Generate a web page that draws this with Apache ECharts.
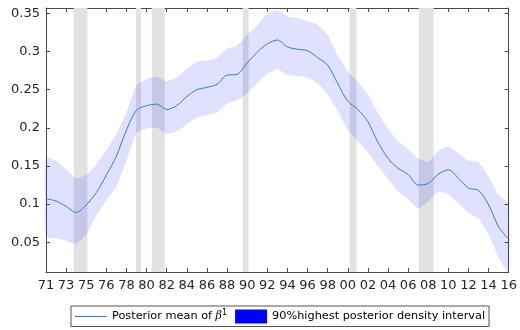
<!DOCTYPE html>
<html>
<head>
<meta charset="utf-8">
<script src="https://cdn.jsdelivr.net/npm/echarts@6/dist/echarts.min.js"></script>
<style>
  html, body { margin: 0; padding: 0; background: #fff; }
  #chart { width: 520px; height: 330px; }
</style>
</head>
<body>
<div id="chart"></div>
<script>
// Tick labels along the time axis (one per tick position 0..23)
const xTickLabels = ['71', '73', '75', '76', '78', '80', '82', '84', '86', '88', '90', '92',
  '94', '96', '98', '00', '02', '04', '06', '08', '10', '12', '14', '16'];

// Value-axis ticks
const yTicks = [0.05, 0.1, 0.15, 0.2, 0.25, 0.3, 0.35];
const yTickLabels = ['0.05', '0.1', '0.15', '0.2', '0.25', '0.3', '0.35'];

// Sample positions on the tick-index scale
const t = [0, 0.5, 1, 1.5, 2, 2.5, 3, 3.5, 4, 4.5, 5, 5.5, 6, 6.5, 7, 7.5, 8, 8.5, 9, 9.5,
  10, 10.5, 11, 11.5, 12, 12.5, 13, 13.5, 14, 14.5, 15, 15.5, 16, 16.5, 17, 17.5, 18, 18.5,
  19, 19.5, 20, 20.5, 21, 21.5, 22, 22.5, 23];

// Posterior mean of beta^1
const posteriorMean = [0.107, 0.104, 0.097, 0.089, 0.099, 0.115, 0.138, 0.163, 0.197, 0.223,
  0.229, 0.231, 0.224, 0.229, 0.241, 0.250, 0.253, 0.257, 0.269, 0.270, 0.285, 0.299, 0.310,
  0.315, 0.306, 0.303, 0.301, 0.292, 0.282, 0.258, 0.235, 0.224, 0.208, 0.181, 0.160, 0.147,
  0.139, 0.125, 0.127, 0.139, 0.145, 0.134, 0.121, 0.118, 0.099, 0.070, 0.054];

// 90% highest posterior density interval bounds
const hpdUpper = [0.161, 0.157, 0.145, 0.134, 0.138, 0.152, 0.171, 0.192, 0.220, 0.256,
  0.264, 0.267, 0.261, 0.266, 0.277, 0.287, 0.288, 0.292, 0.304, 0.308, 0.322, 0.334, 0.350,
  0.354, 0.346, 0.344, 0.340, 0.335, 0.322, 0.295, 0.274, 0.260, 0.244, 0.219, 0.199, 0.182,
  0.172, 0.160, 0.155, 0.170, 0.175, 0.167, 0.157, 0.155, 0.136, 0.112, 0.100];
const hpdLower = [0.057, 0.055, 0.052, 0.048, 0.060, 0.085, 0.105, 0.123, 0.157, 0.193,
  0.199, 0.200, 0.192, 0.195, 0.205, 0.213, 0.217, 0.220, 0.232, 0.236, 0.245, 0.258, 0.271,
  0.277, 0.269, 0.268, 0.266, 0.258, 0.244, 0.222, 0.197, 0.183, 0.168, 0.150, 0.133, 0.117,
  0.106, 0.094, 0.104, 0.116, 0.113, 0.101, 0.088, 0.081, 0.060, 0.030, 0.010];

// Recession periods (shaded), on the tick-index scale
const recessionStart = [1.38, 4.47, 5.26, 9.78, 15.09, 18.53];
const recessionEnd = [2.06, 4.72, 5.90, 10.07, 15.43, 19.26];

const axisColor = '#4a4a4a';
const textColor = '#262626';
const lineColor = '#2f7fd6';
const fontFamily = '"DejaVu Sans", "Liberation Sans", Arial, sans-serif';

const meanName = 'Posterior mean of beta1';
const bandName = '90%highest posterior density interval';

// thin horizontal stroke centred in a 32x14 legend box
const lineIcon = 'path://M0,0h0.01v0.01h-0.01z M0,6.5h32v1h-32z M31.99,13.99h0.01v0.01h-0.01z';

const chart = echarts.init(document.getElementById('chart'), null, { renderer: 'canvas' });

const xBase = {
  type: 'value', min: 0, max: xTickLabels.length - 1, interval: 1,
  axisLine: { show: true, onZero: false, lineStyle: { color: axisColor, width: 1 } },
  axisTick: { show: true, inside: true, length: 4, lineStyle: { color: axisColor } },
  splitLine: { show: false }
};
const yBase = {
  type: 'value', min: 0.011, max: 0.357,
  axisLine: { show: true, onZero: false, lineStyle: { color: axisColor, width: 1 } },
  axisTick: { show: true, inside: true, length: 4, customValues: yTicks, lineStyle: { color: axisColor } },
  splitLine: { show: false }
};

const option = {
  animation: false,
  backgroundColor: '#ffffff',
  grid: { left: 46, right: 6, top: 8, bottom: 58, containLabel: false },
  xAxis: [
    Object.assign({}, xBase, {
      position: 'bottom',
      axisLabel: {
        show: true, margin: 7, color: textColor, fontFamily: fontFamily, fontSize: 13,
        formatter: v => xTickLabels[Math.round(v)]
      }
    }),
    Object.assign({}, xBase, { position: 'top', axisLabel: { show: false } })
  ],
  yAxis: [
    Object.assign({}, yBase, {
      position: 'left',
      axisLabel: {
        show: true, margin: 6, color: textColor, fontFamily: fontFamily, fontSize: 13,
        customValues: yTicks,
        formatter: v => {
          const i = yTicks.findIndex(y => Math.abs(y - v) < 1e-9);
          return i >= 0 ? yTickLabels[i] : '';
        }
      }
    }),
    Object.assign({}, yBase, { position: 'right', axisLabel: { show: false } })
  ],
  legend: {
    left: 71, top: 306,
    orient: 'horizontal',
    padding: [3, 4, 3, 4],
    itemGap: 8,
    itemWidth: 32, itemHeight: 14,
    borderColor: '#555555', borderWidth: 1,
    backgroundColor: '#ffffff',
    selectedMode: false,
    textStyle: {
      color: '#000000', fontFamily: fontFamily, fontSize: 11.3,
      rich: {
        b: { fontFamily: '"DejaVu Serif", serif', fontStyle: 'italic', fontSize: 11, color: '#000' },
        s: { fontSize: 8, color: '#000', verticalAlign: 'bottom', padding: [0, 0, 7, 0] }
      }
    },
    formatter: name => name === meanName ? 'Posterior mean of {b|β}{s|1}' : name,
    data: [
      { name: meanName, icon: lineIcon, itemStyle: { color: lineColor, borderWidth: 0 } },
      { name: bandName, icon: 'rect', itemStyle: { color: '#0000ff', opacity: 1, borderWidth: 0 } }
    ]
  },
  series: [
    {
      // grey recession shading spanning the full plot height
      type: 'custom',
      name: 'recessions',
      xAxisIndex: 0, yAxisIndex: 0,
      silent: true,
      z: 1,
      data: recessionStart.map((s, i) => [s, recessionEnd[i]]),
      renderItem: (params, api) => {
        const cs = params.coordSys;
        const x0 = api.coord([api.value(0), 0.2])[0];
        const x1 = api.coord([api.value(1), 0.2])[0];
        return {
          type: 'rect',
          shape: { x: x0, y: cs.y, width: x1 - x0, height: cs.height },
          style: { fill: '#e2e2e2' }
        };
      }
    },
    {
      // 90% HPD interval as a filled band
      type: 'custom',
      name: bandName,
      xAxisIndex: 0, yAxisIndex: 0,
      silent: true,
      z: 2,
      itemStyle: { color: 'rgba(0,0,255,0.12)' },
      data: [[0]],
      renderItem: (params, api) => {
        const pts = [];
        for (let i = 0; i < t.length; i++) pts.push(api.coord([t[i], hpdUpper[i]]));
        for (let i = t.length - 1; i >= 0; i--) pts.push(api.coord([t[i], hpdLower[i]]));
        return {
          type: 'polygon',
          shape: { points: pts, smooth: 0.15 },
          style: { fill: 'rgba(0,0,255,0.12)', stroke: null }
        };
      }
    },
    {
      type: 'line',
      name: meanName,
      xAxisIndex: 0, yAxisIndex: 0,
      z: 3,
      data: t.map((x, i) => [x, posteriorMean[i]]),
      smooth: 0.3,
      symbol: 'none',
      showSymbol: false,
      color: lineColor,
      lineStyle: { color: lineColor, width: 1 }
    }
  ]
};

chart.setOption(option);
</script>
</body>
</html>
